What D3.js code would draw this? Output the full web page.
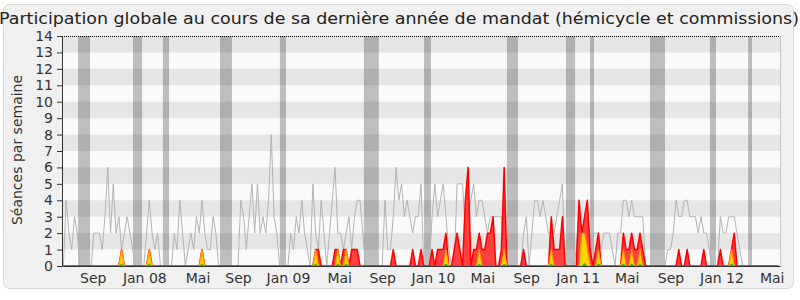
<!DOCTYPE html>
<html lang="fr">
<head>
<meta charset="utf-8">
<script src="https://cdn.jsdelivr.net/npm/d3@7"></script>
<style>
  html, body { margin: 0; padding: 0; background: #fff; }
  svg { display: block; font-family: "DejaVu Sans", sans-serif; }
</style>
</head>
<body>
<div id="chart"></div>
<script>
// ========================================
// DONNÉES (une valeur par semaine, semaine 0 = juin 2007)
// ========================================

// séances par semaine (ligne grise)
const presences = [
  0,4,2,1,3,2,0,0,0,0,  0,2,2,2,1,3,6,2,5,2,  3,1,2,3,2,1,0,0,0,0,
  2,4,2,1,2,0,0,0,0,0,  2,1,4,2,0,1,2,1,3,2,  4,2,1,1,3,2,0,0,0,0,
  0,0,0,0,4,3,1,3,5,2,  5,2,3,2,4,8,3,2,0,0,  0,0,2,1,3,2,4,2,1,0,
  5,2,1,4,2,0,2,4,6,2,  2,1,2,3,1,3,4,4,2,0,  0,0,0,0,0,0,4,1,1,3,
  6,4,5,3,4,3,2,3,3,5,  0,0,0,3,5,3,4,5,3,1,  0,0,5,5,5,2,3,4,5,3,
  4,4,3,2,3,3,3,3,3,0,  0,0,0,0,0,0,2,3,0,2,  4,4,3,4,3,2,2,2,3,4,
  5,0,0,0,0,1,3,2,2,3,  2,2,2,2,1,2,2,2,1,0,  2,2,4,4,3,4,3,3,3,3,
  0,0,0,0,0,0,0,0,1,1,  2,4,3,3,4,4,3,3,3,2,  3,2,2,1,0,0,0,3,2,2,
  3,3,3,2,1,0,0,0,0,0,  0,0,0,0,0,0,0,0,0
];

// participations (zone rouge)
const participations = [
  0,0,0,0,0,0,0,0,0,0,  0,0,0,0,0,0,0,0,0,0,  0,1,0,0,0,0,0,0,0,0,
  0,1,0,0,0,0,0,0,0,0,  0,0,0,0,0,0,0,0,0,0,  1,0,0,0,0,0,0,0,0,0,
  0,0,0,0,0,0,0,0,0,0,  0,0,0,0,0,0,0,0,0,0,  0,0,0,0,0,0,0,0,0,0,
  0,1,1,0,0,0,0,0,1,1,  0,1,1,0,1,1,1,0,0,0,  0,0,0,0,0,0,0,0,0,1,
  0,0,0,0,0,0,1,0,0,1,  0,0,0,1,0,1,1,1,2,0,  0,1,2,1,0,4,6,0,1,1,
  2,1,1,2,2,3,0,0,1,6,  0,0,0,0,0,0,1,0,0,0,  0,0,0,0,0,0,3,1,1,1,
  3,0,0,0,0,0,4,2,3,4,  1,0,1,2,0,0,0,0,0,0,  0,0,2,1,1,2,1,1,2,1,
  0,0,0,0,0,0,0,0,0,0,  0,0,1,0,0,1,0,0,0,0,  0,1,0,0,0,0,0,1,0,0,
  0,1,2,0,0,0,0,0,0,0,  0,0,0,0,0,0,0,0,0
];

// interventions (zone jaune), semaines non nulles
const interventionsSemaines = [21, 31, 50, 91, 99, 102, 138, 150, 159, 176, 187, 188, 189, 193, 202, 205, 208, 241];
const interventionsValeurs  = [ 1,  1,  1,  1,  1,   1,   1,   1,   1,   1,   2,   2,   1,   1,   1,   1,   1,   1];

// questions (zone verte), semaines non nulles
const questionsSemaines = [21, 31, 50, 91, 99, 102, 138, 150, 159, 176, 188, 193, 202, 205, 208, 241];
const questionsValeurs  = [0.15, 0.15, 0.15, 0.15, 0.15, 0.15, 0.15, 0.15, 0.15, 0.15, 0.2, 0.15, 0.15, 0.15, 0.15, 0.15];

// vacances parlementaires (bandes grises), en semaines
const vacancesDebut = [5.3, 25.1, 35.9, 56.5, 78.1, 108.4, 130.1, 160, 181.3, 190, 211.6, 233.2, 247];
const vacancesFin   = [9.6, 28.4, 38.1, 60.8, 80.3, 113.8, 132.6, 164, 184.6, 191.4, 217, 235.4, 248.4];

// axe des abscisses
const tickSemaines = [10.6, 29.2, 48.4, 63, 81, 99.5, 115, 133.3, 151.1, 166.9, 185.5, 203.2, 219, 237.4, 255.5];
const tickLabels = ['Sep', 'Jan 08', 'Mai', 'Sep', 'Jan 09', 'Mai', 'Sep', 'Jan 10', 'Mai', 'Sep', 'Jan 11', 'Mai', 'Sep', 'Jan 12', 'Mai'];

const titre = 'Participation globale au cours de sa dernière année de mandat (hémicycle et commissions)';
const titreAxeY = 'Séances par semaine';

// ========================================
// DESSIN
// ========================================

(function() {
  'use strict';

  const W = 800, H = 300;
  const left = 62, right = 780, top = 36, bottom = 266;

  // séries creuses -> tableaux complets
  const interventions = presences.map(() => 0);
  interventionsSemaines.forEach((s, k) => { interventions[s] = interventionsValeurs[k]; });
  const questions = presences.map(() => 0);
  questionsSemaines.forEach((s, k) => { questions[s] = questionsValeurs[k]; });

  const x = d3.scaleLinear().domain([-0.5, presences.length - 0.5]).range([left, right]);
  const y = d3.scaleLinear().domain([0, 14]).range([bottom, top]);

  const svg = d3.select('#chart').append('svg')
    .attr('width', W)
    .attr('height', H);

  // cadre arrondi
  svg.append('rect')
    .attr('x', 3.5).attr('y', 4.5)
    .attr('width', 790).attr('height', 284)
    .attr('rx', 6)
    .attr('fill', '#f0f0f0')
    .attr('stroke', '#d9d9d9');

  // fond du graphique + bandes horizontales
  svg.append('rect')
    .attr('x', left).attr('y', top)
    .attr('width', right - left).attr('height', bottom - top)
    .attr('fill', '#fafafa');

  svg.append('g').selectAll('rect')
    .data(d3.range(1, 14, 2))
    .join('rect')
    .attr('x', left)
    .attr('y', d => y(d + 1))
    .attr('width', right - left)
    .attr('height', d => y(d) - y(d + 1))
    .attr('fill', '#e6e6e6');

  // vacances
  svg.append('g').selectAll('rect')
    .data(vacancesDebut)
    .join('rect')
    .attr('x', d => x(d))
    .attr('y', top)
    .attr('width', (d, i) => x(vacancesFin[i]) - x(d))
    .attr('height', bottom - top)
    .attr('fill', '#000')
    .attr('fill-opacity', 0.24);

  // bord droit
  svg.append('line')
    .attr('x1', right + 0.5).attr('x2', right + 0.5)
    .attr('y1', top).attr('y2', bottom)
    .attr('stroke', '#c8c8c8');

  // ligne grise des présences
  const ligne = d3.line()
    .x((d, i) => x(i))
    .y(d => y(d));

  svg.append('path')
    .datum(presences)
    .attr('d', ligne)
    .attr('fill', 'none')
    .attr('stroke', '#b4b4b4')
    .attr('stroke-width', 1);

  const aire = d3.area()
    .x((d, i) => x(i))
    .y0(y(0))
    .y1(d => y(d));

  // autour des valeurs non nulles seulement
  const proche = serie => (d, i) => d > 0 || serie[i - 1] > 0 || serie[i + 1] > 0;

  // participations
  svg.append('path')
    .datum(participations)
    .attr('d', aire)
    .attr('fill', '#ff4040');
  svg.append('path')
    .datum(participations)
    .attr('d', ligne)
    .attr('fill', 'none')
    .attr('stroke', '#ff0000')
    .attr('stroke-width', 1.5)
    .attr('stroke-linejoin', 'round');

  // interventions
  svg.append('path')
    .datum(interventions)
    .attr('d', aire.defined(proche(interventions)))
    .attr('fill', '#ffd400');
  svg.append('path')
    .datum(interventions)
    .attr('d', d3.line().x((d, i) => x(i)).y(d => y(d)).defined(proche(interventions)))
    .attr('fill', 'none')
    .attr('stroke', '#ff9c00')
    .attr('stroke-width', 1);

  // questions
  svg.append('path')
    .datum(questions)
    .attr('d', d3.area().x((d, i) => x(i)).y0(y(0)).y1(d => y(d)).defined(proche(questions)))
    .attr('fill', '#00d000');

  // ligne pointillée du haut
  svg.append('line')
    .attr('x1', left).attr('x2', right)
    .attr('y1', top + 0.5).attr('y2', top + 0.5)
    .attr('stroke', '#000')
    .attr('stroke-dasharray', '1,1');

  // axes
  const axeY = svg.append('g')
    .attr('transform', `translate(${left},0)`)
    .call(d3.axisLeft(y).tickValues(d3.range(0, 15)).tickSize(5).tickSizeOuter(0).tickPadding(4));

  const axeX = svg.append('g')
    .attr('transform', `translate(0,${bottom})`)
    .call(d3.axisBottom(x)
      .tickValues(tickSemaines)
      .tickFormat((d, i) => tickLabels[i])
      .tickSize(0)
      .tickPadding(7));

  [axeY, axeX].forEach(a => {
    a.selectAll('.domain, line').attr('stroke', '#333');
    a.selectAll('text')
      .attr('fill', '#333')
      .style('font-size', '14px')
      .style('font-family', '"DejaVu Sans", sans-serif');
  });

  // titres
  svg.append('text')
    .attr('x', 399)
    .attr('y', 24)
    .attr('text-anchor', 'middle')
    .attr('textLength', 800)
    .attr('lengthAdjust', 'spacingAndGlyphs')
    .attr('fill', '#222')
    .style('font-size', '15.5px')
    .text(titre);

  svg.append('text')
    .attr('transform', 'rotate(-90)')
    .attr('x', -150)
    .attr('y', 22)
    .attr('text-anchor', 'middle')
    .attr('fill', '#333')
    .style('font-size', '14px')
    .text(titreAxeY);
})();
</script>
</body>
</html>
